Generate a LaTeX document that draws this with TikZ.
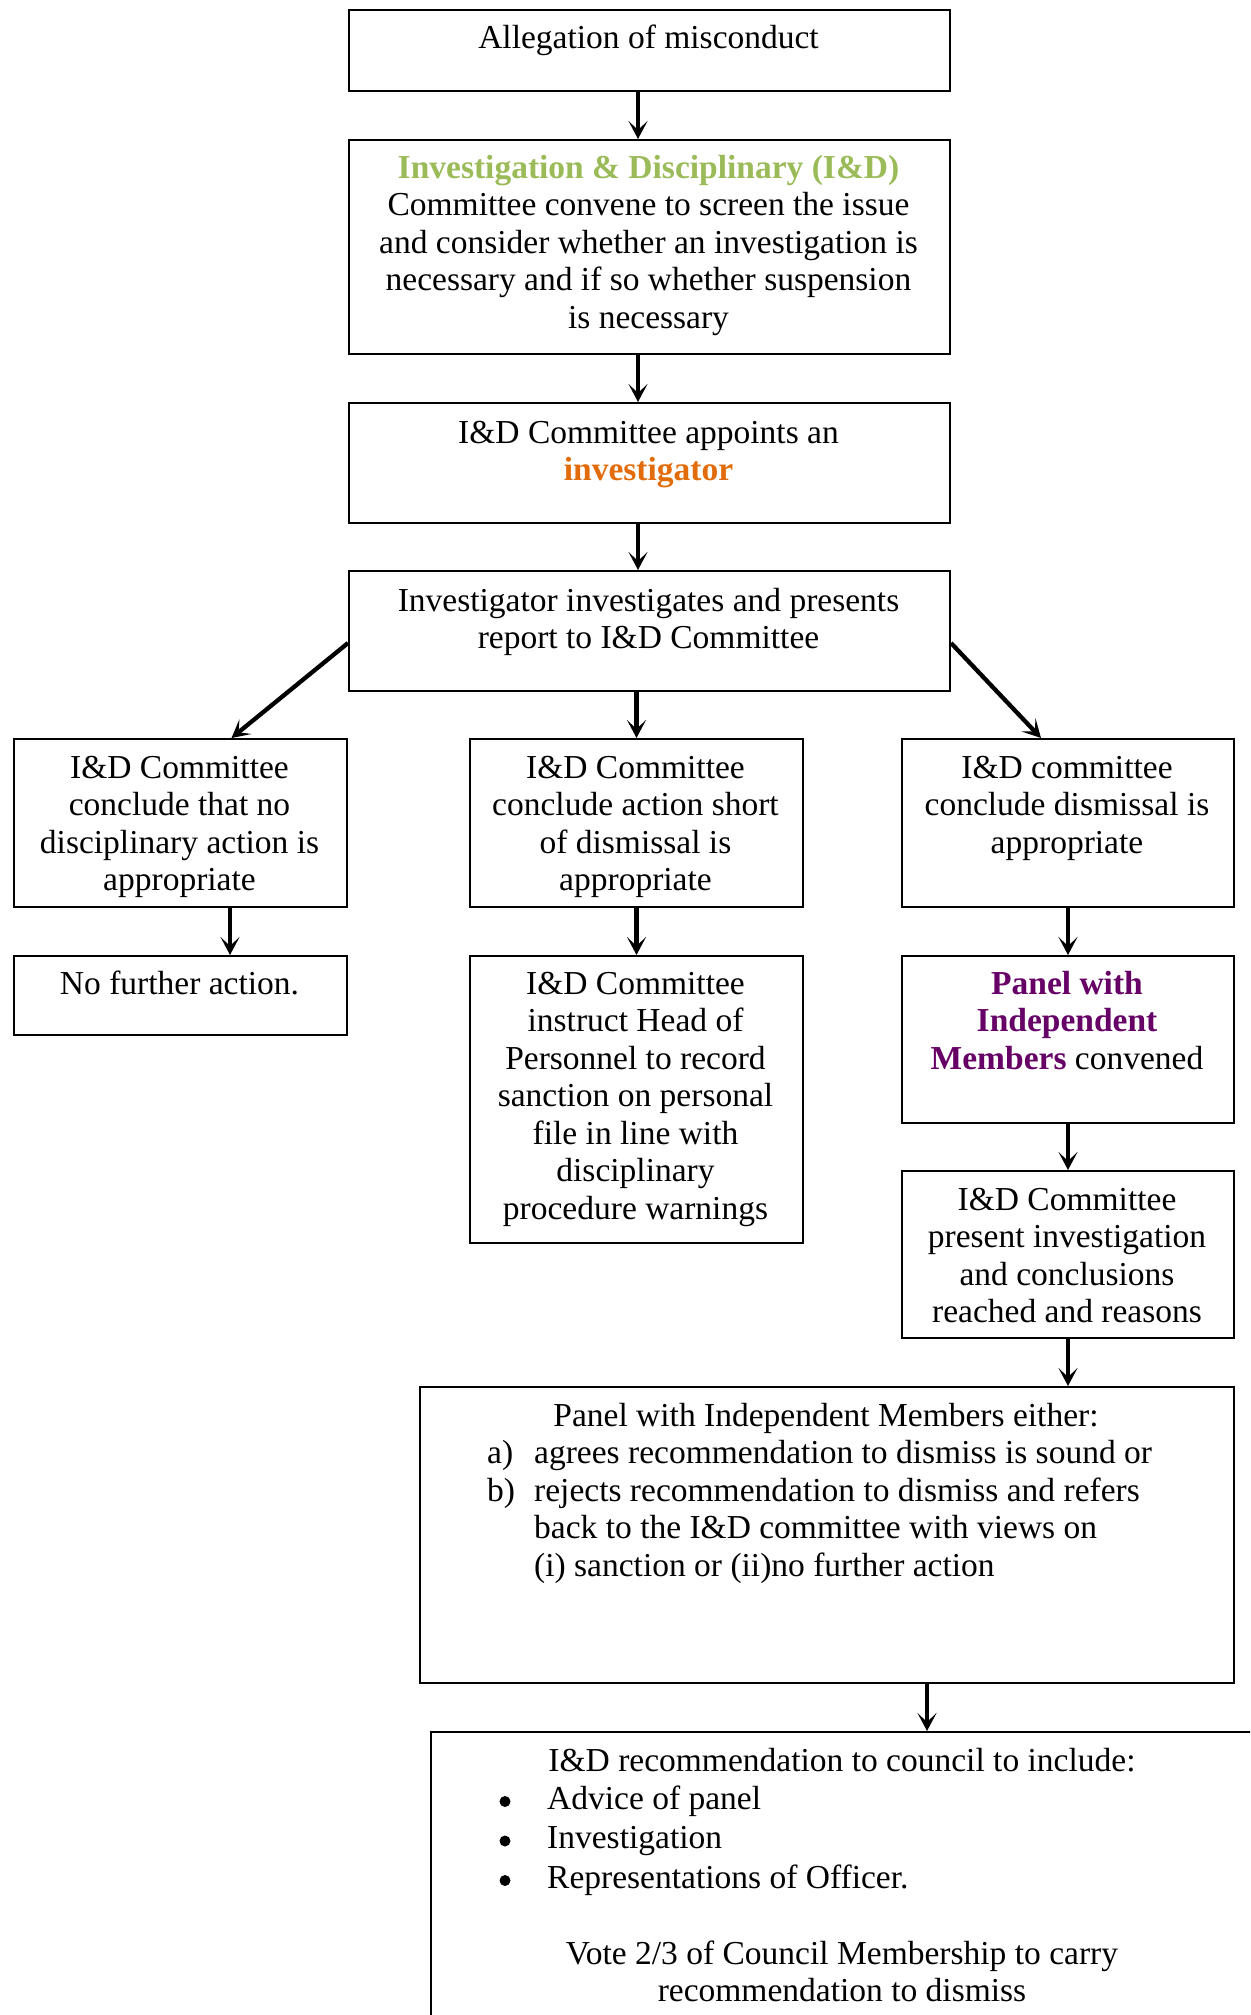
\documentclass[tikz,border=0pt]{standalone}
\usepackage{fontspec}
\setmainfont{Liberation Serif}
\usetikzlibrary{arrows.meta}
\definecolor{idgreen}{RGB}{155,187,89}
\definecolor{idorange}{RGB}{227,108,10}
\definecolor{idpurple}{RGB}{102,0,102}
\newcommand{\mylines}[1]{\begin{tabular}[t]{@{}c@{}}#1\end{tabular}}
\begin{document}
\begin{tikzpicture}[x=1pt,y=-1pt,
  boxnode/.style={draw=black,line width=2pt,rectangle,inner sep=0pt,anchor=north west},
  txt/.style={inner sep=0pt,font=\fontsize{33.5}{37.5}\selectfont},
  arr/.style={line width=4.3pt,-{Stealth[length=18pt,width=19pt,inset=9pt]}},
  bul/.style={fill=black}]
\path[fill=white] (0,0) rectangle (1250,2015);
\useasboundingbox (0,0) rectangle (1250,2015);
% boxes
\node[boxnode,minimum width=601pt,minimum height=81pt] (b1) at (348,9) {};
\node[boxnode,minimum width=601pt,minimum height=214pt] (b2) at (348,139) {};
\node[boxnode,minimum width=601pt,minimum height=120pt] (b3) at (348,402) {};
\node[boxnode,minimum width=601pt,minimum height=120pt] (b4) at (348,570) {};
\node[boxnode,minimum width=333pt,minimum height=168pt] (l1) at (13,738) {};
\node[boxnode,minimum width=333pt,minimum height=168pt] (m1) at (469,738) {};
\node[boxnode,minimum width=332pt,minimum height=168pt] (r1) at (901,738) {};
\node[boxnode,minimum width=333pt,minimum height=79pt] (l2) at (13,955) {};
\node[boxnode,minimum width=333pt,minimum height=287pt] (m2) at (469,955) {};
\node[boxnode,minimum width=332pt,minimum height=167pt] (r2) at (901,955) {};
\node[boxnode,minimum width=332pt,minimum height=167pt] (r3) at (901,1170) {};
\node[boxnode,minimum width=814pt,minimum height=296pt] (p) at (419,1386) {};
\begin{scope}
\clip (0,0) rectangle (1250,2015);
\node[boxnode,minimum width=824pt,minimum height=320pt] (f) at (430,1731) {};
\end{scope}
% texts
\node[txt,anchor=base] (b1t) at (648.5,49) {\mylines{Allegation of misconduct}};
\node[txt,anchor=base] (b2t) at (648.5,178) {\mylines{{\bfseries\color{idgreen}Investigation \& Disciplinary (I\&D)}\\
  Committee convene to screen the issue\\ and consider whether an investigation is\\
  necessary and if so whether suspension\\ is necessary}};
\node[txt,anchor=base] (b3t) at (648.5,443) {\mylines{I\&D Committee appoints an\\ {\bfseries\color{idorange}investigator}}};
\node[txt,anchor=base] (b4t) at (648.5,611) {\mylines{Investigator investigates and presents\\ report to I\&D Committee}};
\node[txt,anchor=base] (l1t) at (179.5,778) {\mylines{I\&D Committee\\ conclude that no\\ disciplinary action is\\ appropriate}};
\node[txt,anchor=base] (m1t) at (635.5,778) {\mylines{I\&D Committee\\ conclude action short\\ of dismissal is\\ appropriate}};
\node[txt,anchor=base] (r1t) at (1067,778) {\mylines{I\&D committee\\ conclude dismissal is\\ appropriate}};
\node[txt,anchor=base] (l2t) at (179.5,994) {\mylines{No further action.}};
\node[txt,anchor=base] (m2t) at (635.5,994) {\mylines{I\&D Committee\\ instruct Head of\\ Personnel to record\\ sanction on personal\\ file in line with\\ disciplinary\\ procedure warnings}};
\node[txt,anchor=base] (r2t) at (1067,994) {\mylines{{\bfseries\color{idpurple}Panel with}\\ {\bfseries\color{idpurple}Independent}\\ {\bfseries\color{idpurple}Members} convened}};
\node[txt,anchor=base] (r3t) at (1067,1210) {\mylines{I\&D Committee\\ present investigation\\ and conclusions\\ reached and reasons}};
\node[txt,anchor=base] (pt) at (826,1426) {\mylines{Panel with Independent Members either:}};
\node[txt,anchor=base west] (pl) at (487,1463.5) {\begin{tabular}[t]{@{}p{47pt}@{}l@{}}
  a) & agrees recommendation to dismiss is sound or\\
  b) & rejects recommendation to dismiss and refers\\
     & back to the I\&D committee with views on\\
     & (i) sanction or (ii)no further action\end{tabular}};
\node[txt,anchor=base] (ft) at (842,1771) {\mylines{I\&D recommendation to council to include:}};
\node[txt,anchor=base west] (fl) at (547,1809) {\begin{tabular}[t]{@{}l@{}}
  Advice of panel\\[2pt]
  Investigation\\[2pt]
  Representations of Officer.\end{tabular}};
\fill[bul] (505,1801.5) circle (5.5pt);
\fill[bul] (505,1841) circle (5.5pt);
\fill[bul] (505,1880.5) circle (5.5pt);
\node[txt,anchor=base] (fv) at (842,1964) {\mylines{Vote 2/3 of Council Membership to carry\\ recommendation to dismiss}};
% connectors
\draw[arr] ([xshift=-11.5pt]b1.south) -- ([xshift=-11.5pt]b2.north);
\draw[arr] ([xshift=-11.5pt]b2.south) -- ([xshift=-11.5pt]b3.north);
\draw[arr] ([xshift=-11.5pt]b3.south) -- ([xshift=-11.5pt]b4.north);
\draw[arr] (b4.south -| m1.north) -- (m1.north);
\draw[arr] ([yshift=-12pt]b4.west) -- ([xshift=51pt]l1.north);
\draw[arr] ([yshift=-12pt]b4.east) -- ([xshift=-27pt]r1.north);
\draw[arr] ([xshift=49.5pt]l1.south) -- ([xshift=49.5pt]l2.north);
\draw[arr] (m1.south) -- (m2.north);
\draw[arr] (r1.south) -- (r2.north);
\draw[arr] (r2.south) -- (r3.north);
\draw[arr] (r3.south) -- (r3.south |- p.north);
\draw[arr] ([xshift=100pt]p.south) -- ([xshift=100pt]p.south |- f.north);
\end{tikzpicture}
\end{document}
